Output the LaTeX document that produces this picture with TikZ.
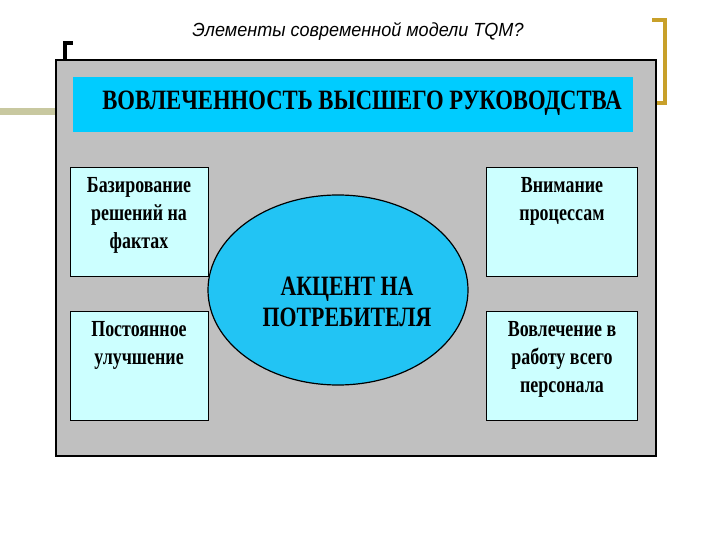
\documentclass[tikz,border=0pt]{standalone}
\usepackage{fontspec}
\setmainfont{Liberation Serif}
\newfontfamily\titlefont{Liberation Sans}
\usetikzlibrary{shapes.geometric}
\definecolor{gold}{HTML}{C8A02A}
\definecolor{olive}{HTML}{C8C8A0}
\definecolor{panel}{HTML}{C0C0C0}
\definecolor{banner}{HTML}{00CCFF}
\definecolor{lcyan}{HTML}{CCFFFF}
\definecolor{ell}{HTML}{22C4F4}
\tikzset{
  sbox/.style={draw=black, line width=1.2pt, fill=lcyan, minimum width=138pt, minimum height=109pt, anchor=north west, inner sep=0pt},
  btxt/.style={font=\fontsize{23}{28}\selectfont\bfseries, align=center, anchor=north}
}
\newcommand{\nar}[1]{\scalebox{0.78}[1]{#1}}
\begin{document}
\begin{tikzpicture}[x=1pt,y=-1pt]
\useasboundingbox (0,0) rectangle (720,540);
\fill[white] (0,0) rectangle (720,540);
% decorations
\draw[gold, line width=4pt] (652,20) -- (665,20) -- (665,103) -- (652,103);
\draw[olive, line width=7pt] (0,112) -- (55,112);
\draw[black, line width=4pt] (65,60) -- (65,43) -- (73,43);
\node[font=\titlefont\itshape\fontsize{19}{21}\selectfont] (title) at (358,31) {\scalebox{0.95}[1]{Элементы современной модели TQM?}};
% panel
\node[draw=black, line width=1.5pt, fill=panel, minimum width=600pt, minimum height=395pt, anchor=north west, inner sep=0pt] (panel) at (55,60) {};
\draw[black, line width=2.5pt] (panel.north west) -- (panel.north east);
\node[fill=banner, minimum width=560pt, minimum height=55pt, anchor=north west, inner sep=0pt] (banner) at (73,77) {};
\node[font=\fontsize{28}{30}\selectfont\bfseries] (bt) at (362,103) {\scalebox{0.81}[1]{ВОВЛЕЧЕННОСТЬ ВЫСШЕГО РУКОВОДСТВА}};
% boxes
\node[sbox, minimum width=138pt] (lt) at (70,167) {};
\node[sbox, minimum width=138pt] (lb) at (70,311) {};
\node[sbox, minimum width=151pt] (rt) at (486,167) {};
\node[sbox, minimum width=151pt] (rb) at (486,311) {};
\node[btxt] at (139,174) {\nar{Базирование}\\\nar{решений на}\\\nar{фактах}};
\node[btxt] at (139,318) {\nar{Постоянное}\\\nar{улучшение}};
\node[btxt] at (562,174) {\nar{Внимание}\\\nar{процессам}};
\node[btxt] at (562,318) {\nar{Вовлечение в}\\\nar{работу всего}\\\nar{персонала}};
% ellipse
\node[ellipse, draw=black, line width=1.2pt, fill=ell, minimum width=260pt, minimum height=190pt, inner sep=0pt] (center) at (338,290) {};
\node[font=\fontsize{28}{31}\selectfont\bfseries, align=center] at (347,302) {\nar{АКЦЕНТ НА}\\\nar{ПОТРЕБИТЕЛЯ}};
\end{tikzpicture}
\end{document}
